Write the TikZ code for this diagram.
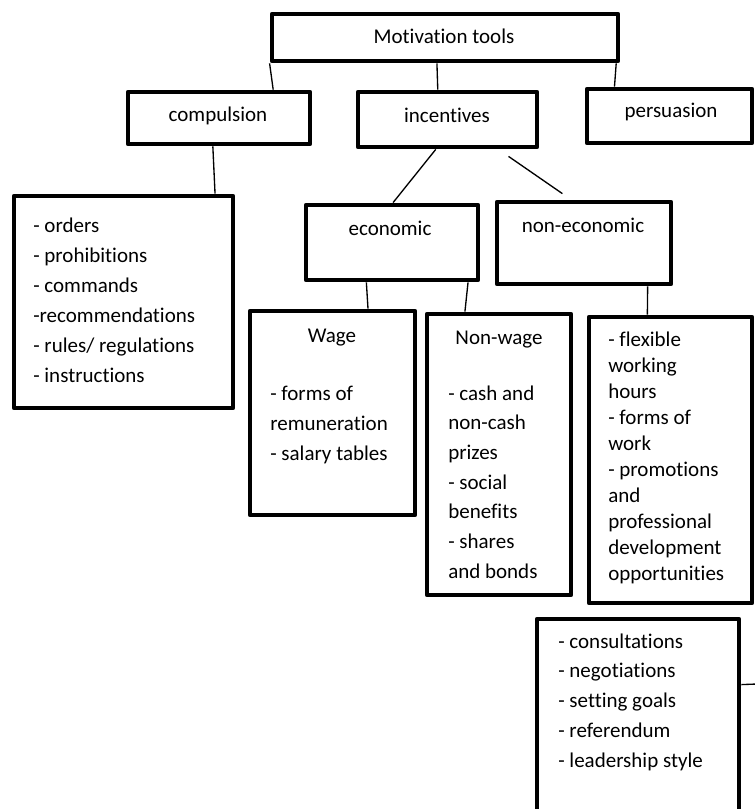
\documentclass[tikz,border=0pt]{standalone}
\usepackage{fontspec}
\setmainfont{Carlito}[Ligatures=NoCommon]
\usetikzlibrary{fit,calc}
\tikzset{
  box/.style={draw, line width=3.6pt, line join=round, inner sep=0pt},
  conn/.style={line width=1pt},
  lbl/.style={inner sep=0pt, anchor=base, font=\fontsize{15.75}{19}\selectfont},
  lst/.style={inner sep=0pt, align=left, anchor=base west},
}
\begin{document}
\begin{tikzpicture}[x=0.75pt,y=-0.75pt]
\useasboundingbox (0,0) rectangle (755,809);
\clip (0,0) rectangle (755,809);
% boxes
\node[box, fit={(272,14) (618,61)}] (mot) {};
\node[box, fit={(128,92) (310,144)}] (comp) {};
\node[box, fit={(358,92) (537,147)}] (inc) {};
\node[box, fit={(587,89) (752,143)}] (pers) {};
\node[box, fit={(14,196) (233,408)}] (clist) {};
\node[box, fit={(306,205) (478,280)}] (econ) {};
\node[box, fit={(497,202) (671,284)}] (nonecon) {};
\node[box, fit={(250,311) (415,515)}] (wage) {};
\node[box, fit={(427,314) (571,595)}] (nonwage) {};
\node[box, fit={(589,317) (752,603)}] (nlist) {};
\node[box, fit={(537,619) (739,840)}] (plist) {};
\coordinate (pend) at (757,684);
% connectors
\draw[conn] ($(mot.south west)!0.0!(mot.south east)$) -- ($(comp.north west)!0.79!(comp.north east)$);
\draw[conn] ($(mot.south west)!0.477!(mot.south east)$) -- ($(inc.north west)!0.447!(inc.north east)$);
\draw[conn] ($(mot.south west)!0.988!(mot.south east)$) -- ($(pers.north west)!0.176!(pers.north east)$);
\draw[conn] ($(comp.south west)!0.467!(comp.south east)$) -- ($(clist.north west)!0.909!(clist.north east)$);
\draw[conn] ($(inc.south west)!0.436!(inc.south east)$) -- ($(econ.north west)!0.506!(econ.north east)$);
\draw[conn] ($(inc.south west)!0.832!(inc.south east)+(0,7)$) -- ($(nonecon.north west)!0.379!(nonecon.north east)+(0,-6)$);
\draw[conn] ($(econ.south west)!0.355!(econ.south east)$) -- ($(wage.north west)!0.709!(wage.north east)$);
\draw[conn] ($(econ.south west)!0.93!(econ.south east)$) -- ($(nonwage.north west)!0.271!(nonwage.north east)$);
\draw[conn] ($(nonecon.south west)!0.856!(nonecon.south east)$) -- ($(nlist.north west)!0.362!(nlist.north east)$);
\draw[conn] ($(plist.north east)+(0,68)$) -- (pend);
% labels
\node[lbl] (t-mot) at (444,44) {Motivation tools};
\node[lbl] (t-comp) at (218,122) {compulsion};
\node[lbl] (t-inc) at (447,123) {incentives};
\node[lbl] (t-pers) at (671,118) {persuasion};
\node[lbl] (t-econ) at (390,235) {economic};
\node[lbl] (t-nonecon) at (583,233) {non-economic};
\node[lbl] (t-wage) at (332,342) {Wage};
\node[lbl] (t-nonwage) at (499,344) {Non-wage};
% lists (anchor = baseline of last line)
\node[lst, font=\fontsize{15.75}{22.5}\selectfont] (t-clist) at (33,382)
  {- orders\\- prohibitions\\- commands\\-recommendations\\- rules/ regulations\\- instructions};
\node[lst, font=\fontsize{15.75}{22.5}\selectfont] (t-wlist) at (270,460)
  {- forms of\\remuneration\\- salary tables};
\node[lst, font=\fontsize{15.75}{22.25}\selectfont] (t-nwlist) at (448,578)
  {- cash and\\non-cash\\prizes\\- social\\benefits\\- shares\\and bonds};
\node[lst, font=\fontsize{15.75}{19.45}\selectfont] (t-nlist) at (608,580)
  {- flexible\\working\\hours\\- forms of\\work\\- promotions\\and\\professional\\development\\opportunities};
\node[lst, font=\fontsize{15.75}{22.3}\selectfont] (t-plist) at (558,767)
  {- consultations\\- negotiations\\- setting goals\\- referendum\\- leadership style};
\end{tikzpicture}
\end{document}
